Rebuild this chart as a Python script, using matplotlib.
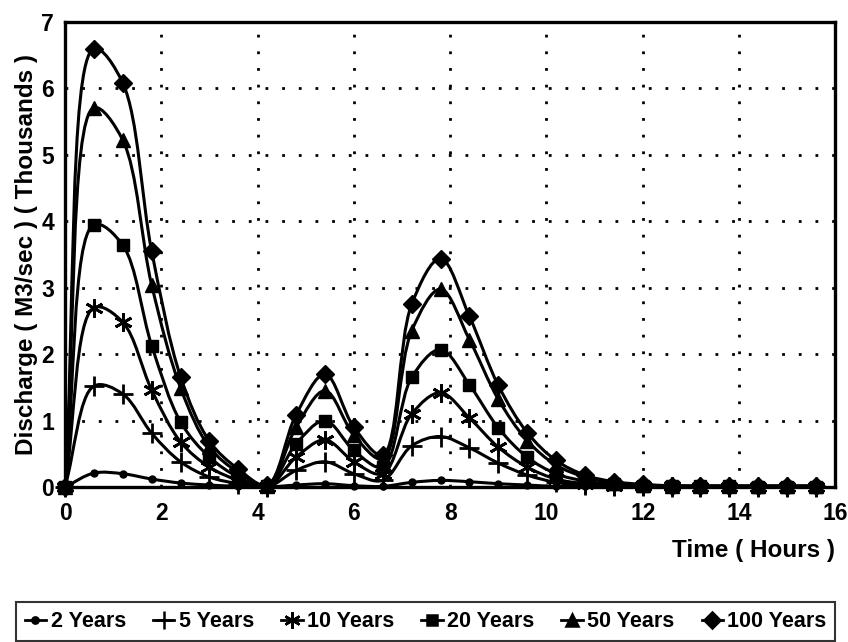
import numpy as np
import matplotlib.pyplot as plt
from matplotlib.path import Path
from matplotlib.patches import PathPatch
from matplotlib.lines import Line2D

plt.rcParams['font.family'] = ['Liberation Sans', 'DejaVu Sans']

# time in hours, one reading every 0.6 h
time = [round(0.6 * i, 1) for i in range(27)]

# discharge in thousands of m3/sec
q2 = [0, 0.21, 0.20, 0.12, 0.06, 0.03, 0.01, 0.0, 0.03, 0.05, 0.02, 0.01, 0.07, 0.10,
      0.08, 0.05, 0.03, 0.01, 0.01, 0.0, 0, 0, 0, 0, 0, 0, 0]
q5 = [0, 1.52, 1.40, 0.81, 0.38, 0.15, 0.05, 0.0, 0.25, 0.38, 0.20, 0.10, 0.62, 0.76,
      0.59, 0.36, 0.18, 0.07, 0.03, 0.01, 0.01, 0, 0, 0, 0, 0, 0]
q10 = [0, 2.70, 2.48, 1.46, 0.68, 0.30, 0.10, 0.0, 0.45, 0.71, 0.38, 0.20, 1.10, 1.42,
       1.04, 0.60, 0.30, 0.12, 0.05, 0.02, 0.01, 0.01, 0, 0, 0, 0, 0]
q20 = [0, 3.95, 3.64, 2.13, 0.98, 0.45, 0.15, 0.01, 0.65, 1.00, 0.55, 0.30, 1.65, 2.07,
       1.54, 0.89, 0.45, 0.20, 0.09, 0.04, 0.02, 0.01, 0.01, 0.01, 0, 0, 0]
q50 = [0, 5.71, 5.22, 3.04, 1.49, 0.60, 0.22, 0.02, 0.90, 1.45, 0.78, 0.42, 2.35, 2.98,
       2.22, 1.32, 0.70, 0.33, 0.15, 0.06, 0.03, 0.02, 0.01, 0.01, 0.01, 0.01, 0.01]
q100 = [0, 6.60, 6.08, 3.55, 1.66, 0.69, 0.27, 0.03, 1.09, 1.70, 0.90, 0.48, 2.75, 3.44,
        2.57, 1.53, 0.82, 0.40, 0.18, 0.08, 0.04, 0.02, 0.02, 0.02, 0.02, 0.02, 0.02]

labels = ["2 Years", "5 Years", "10 Years", "20 Years", "50 Years", "100 Years"]
series = [q2, q5, q10, q20, q50, q100]
markers = ["o", "+", (6, 2, 0), "s", "^", "D"]
msizes = [5, 15, 13, 8, 10, 9]


def smooth_path(ax, x, y):
    # centripetal catmull-rom through the points (in pixel space), as bezier
    pts = ax.transData.transform(np.column_stack([x, y]))
    pts = np.vstack([2 * pts[0] - pts[1], pts, 2 * pts[-1] - pts[-2]])
    verts = [pts[1]]
    codes = [Path.MOVETO]
    for i in range(1, len(pts) - 2):
        p0, p1, p2, p3 = pts[i - 1], pts[i], pts[i + 1], pts[i + 2]
        d1 = max(np.hypot(*(p1 - p0)) ** 0.5, 1e-6)
        d2 = max(np.hypot(*(p2 - p1)) ** 0.5, 1e-6)
        d3 = max(np.hypot(*(p3 - p2)) ** 0.5, 1e-6)
        b1 = (d1**2 * p2 - d2**2 * p0 + (2 * d1**2 + 3 * d1 * d2 + d2**2) * p1) / (3 * d1 * (d1 + d2))
        b2 = (d3**2 * p1 - d2**2 * p3 + (2 * d3**2 + 3 * d3 * d2 + d2**2) * p2) / (3 * d3 * (d3 + d2))
        verts += [b1, b2, p2]
        codes += [Path.CURVE4] * 3
    verts = ax.transData.inverted().transform(np.array(verts))
    return Path(verts, codes)


fig = plt.figure(figsize=(8.48, 6.42), dpi=100)
ax = fig.add_axes([0.0767, 0.2414, 0.9083, 0.7243])
ax.set_xlim(0, 16)
ax.set_ylim(0, 7)

handles = []
for q, lab, m, ms in zip(series, labels, markers, msizes):
    ax.add_patch(PathPatch(smooth_path(ax, time, q), fill=False, edgecolor="black", lw=2.2))
    ax.plot(time, q, linestyle="none", marker=m, markersize=ms, color="black",
            markeredgewidth=2 if m in ("+", (6, 2, 0)) else 1, clip_on=False)
    handles.append(Line2D([], [], color="black", lw=2, marker=m,
                          markersize=ms * 0.9, markeredgewidth=1.8, label=lab))

ax.set_xticks(range(0, 17, 2))
ax.set_yticks(range(0, 8))
ax.grid(True, color="black", linestyle=(0, (1, 5)), lw=2)
ax.tick_params(length=0, labelsize=16.5)
ax.tick_params(axis="x", pad=11)
ax.tick_params(axis="y", pad=8)
for t in ax.get_xticklabels() + ax.get_yticklabels():
    t.set_fontweight("bold")
for s in ax.spines.values():
    s.set_linewidth(2.4)

ax.set_ylabel("Discharge ( M3/sec ) ( Thousands )", fontsize=17.5, fontweight="bold", labelpad=2)
fig.text(0.985, 0.142, "Time ( Hours )", ha="right", va="center", fontsize=17.5, fontweight="bold")

leg = fig.legend(handles=handles, loc="lower left", ncol=6, mode="expand",
                 bbox_to_anchor=(0.019, 0.002, 0.966, 0.087), frameon=True, fancybox=False,
                 edgecolor="black", handlelength=1.0, handletextpad=0.2, columnspacing=0.6,
                 borderaxespad=0, prop={"weight": "bold", "size": 15.5})
leg.get_frame().set_linewidth(1.5)

fig.savefig("out.png", dpi=100)
